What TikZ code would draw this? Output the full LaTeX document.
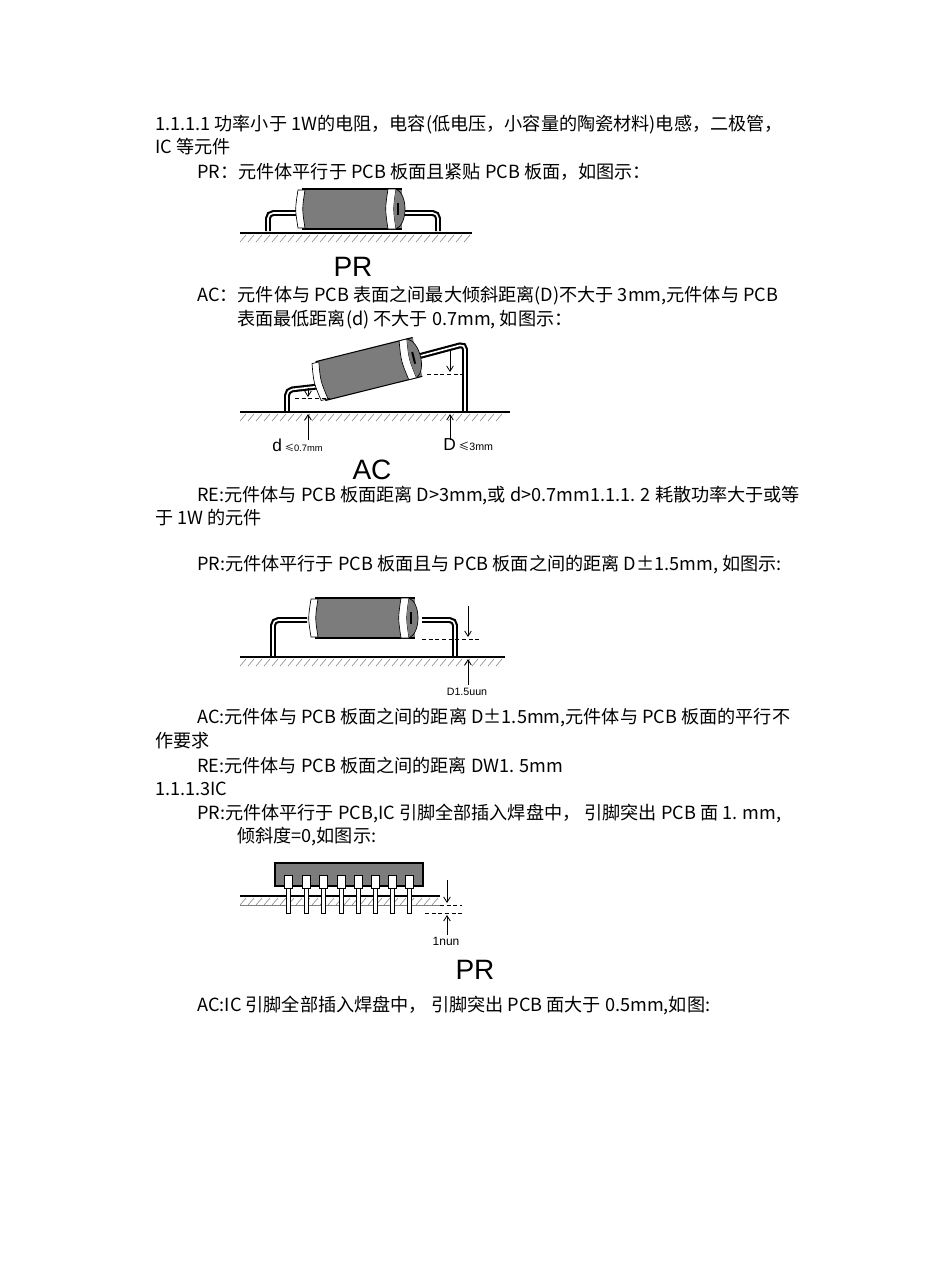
\documentclass[tikz,border=0pt]{standalone}
\usepackage{fontspec}
\setmainfont{Noto Sans CJK SC}
\newfontfamily\latf{Liberation Sans}
\usetikzlibrary{arrows.meta}
\definecolor{bodygray}{HTML}{7C7C7C}
\tikzset{
  txt/.style={anchor=west,inner sep=0pt,font=\fontsize{13.6}{15}\selectfont},
  big/.style={inner sep=0pt,font=\latf\fontsize{21}{23}\selectfont},
  small/.style={inner sep=0pt,font=\latf\fontsize{8}{9}\selectfont},
  lead/.style={line width=1.6pt,draw=black,double=white,double distance=1.2pt,rounded corners=4pt},
  dim/.style={densely dashed,line width=0.4pt},
  arr/.style={-{Straight Barb[length=4pt,width=5pt]},line width=0.6pt},
  hat/.style={line width=0.4pt,gray}
}
\newcommand\ground[3]{% x1,x2,y
  \draw[line width=1pt] (#1,#3) -- (#2,#3);
  \pgfmathsetmacro\nn{int((#2-#1)/8)-1}
  \foreach \i in {0,...,\nn}{\draw[hat] (#1+\i*8,#3+9) -- (#1+\i*8+6,#3+2);}
}
\newcommand\resbody{%
  \fill[bodygray] (-50,-20) rectangle (50,20);
  \draw[line width=0.8pt] (-50,-20) -- (50,-20) (-50,20) -- (50,20);
  \draw[fill=white,line width=0.5pt] (-54,-19) .. controls (-57,0) .. (-54,19) -- (-47,19) .. controls (-50,0) .. (-47,-19) -- cycle;
  \draw[fill=white,line width=0.5pt] (36,-20) .. controls (33,0) .. (36,20) -- (44,20) .. controls (41,0) .. (44,-20) -- cycle;
  \fill[bodygray] (44,-20) .. controls (56,-15) and (56,15) .. (44,20) .. controls (41,0) .. (44,-20);
  \draw[line width=0.5pt] (44,-20) .. controls (56,-15) and (56,15) .. (44,20);
  \draw[line width=1.5pt] (46,-6) -- (46,6);
}
\begin{document}
\begin{tikzpicture}[x=0.75pt,y=-0.75pt]
\useasboundingbox (0,0) rectangle (950,1288);
\fill[white] (0,0) rectangle (950,1288);
% texts
\node[txt] (t1) at (155,125) {1.1.1.1 功率小于 \textit{1W}的电阻，电容(低电压，小容量的陶瓷材料)电感，二极管，};
\node[txt] (t2) at (155,147) {IC 等元件};
\node[txt] (t3) at (197,172) {PR：元件体平行于 PCB 板面且紧贴 PCB 板面，如图示：};
\node[big] (pr1) at (353,267) {PR};
\node[txt] (t4) at (197,296) {AC：元件体与 PCB 表面之间最大倾斜距离(D)不大于 3mm,元件体与 PCB};
\node[txt] (t5) at (237,320) {表面最低距离(d) 不大于 0.7mm, 如图示：};
\node[big] (ac1) at (372,470) {AC};
\node[txt] (t6) at (197,496) {RE:元件体与 PCB 板面距离 D>3mm,或 d>0.7mm1.1.1. 2 耗散功率大于或等};
\node[txt] (t7) at (155,518) {于 1W 的元件};
\node[txt] (t8) at (197,565) {PR:元件体平行于 PCB 板面且与 PCB 板面之间的距离 D±1.5mm, 如图示:};
\node[txt] (t9) at (197,718) {AC:元件体与 PCB 板面之间的距离 D±1.5mm,元件体与 PCB 板面的平行不};
\node[txt] (t10) at (155,741) {作要求};
\node[txt] (t11) at (197,766) {RE:元件体与 PCB 板面之间的距离 DW1. 5mm};
\node[txt] (t12) at (155,789) {1.1.1.3IC};
\node[txt] (t13) at (197,813) {PR:元件体平行于 PCB,IC 引脚全部插入焊盘中， 引脚突出 PCB 面 1. mm,};
\node[txt] (t14) at (237,837) {倾斜度=0,如图示:};
\node[big] (pr2) at (475,970) {PR};
\node[txt] (t15) at (197,1005) {AC:IC 引脚全部插入焊盘中， 引脚突出 PCB 面大于 0.5mm,如图:};
% figure 1
\draw[lead] (300,213) -- (268,213) -- (268,231);
\draw[lead] (405,213) -- (438,213) -- (438,231);
\begin{scope}[shift={(352,209)}] \resbody \end{scope}
\ground{240}{472}{233}
% figure 2
\draw[lead] (322,386) -- (287,390) -- (287,411);
\draw[lead] (420,356) -- (465,344) -- (465,411);
\begin{scope}[shift={(369,369)},rotate=14] \resbody \end{scope}
\ground{240}{510}{412}
\draw[dim] (295,398) -- (330,398);
\draw[dim] (427,374) -- (465,374);
\draw[arr] (308,388) -- (308,397);
\draw[arr] (450,350) -- (450,372);
\draw[arr] (308,440) -- (308,414);
\draw[arr] (450,440) -- (450,414);
\node[small,anchor=west] (dl) at (272,445) {\fontsize{13}{14}\selectfont d\,{\fontspec{Noto Sans CJK SC}\fontsize{7}{8}\selectfont ≤}\fontsize{7}{8}\selectfont 0.7mm};
\node[small,anchor=west] (Dl) at (443,445) {\fontsize{13}{14}\selectfont D\,{\fontspec{Noto Sans CJK SC}\fontsize{8}{9}\selectfont ≤}\fontsize{8}{9}\selectfont 3mm};
% figure 3
\draw[lead] (307,620) -- (273,620) -- (273,656);
\draw[lead] (422,620) -- (455,620) -- (455,656);
\begin{scope}[shift={(365,618)}] \resbody \end{scope}
\ground{240}{505}{657}
\draw[dim] (422,639) -- (480,639);
\draw[arr] (468,606) -- (468,637);
\draw[arr] (468,685) -- (468,659);
\node[small] (d15) at (467,692) {D1.5uun};
% figure 4
\fill[bodygray] (275,863) rectangle (423,886);
\draw[line width=0.8pt] (275,863) rectangle (423,886);
\ground{240}{440}{896}
\draw[hat] (240,905) -- (440,905);
\foreach \px in {288,306,323,341,358,375,392,409}{
  \draw[fill=white,line width=0.6pt] (\px-4,875) rectangle (\px+4,888);
  \draw[fill=white,line width=0.6pt] (\px-2,888) rectangle (\px+2,913);
}
\draw[dim] (440,905) -- (462,905);
\draw[dim] (425,913) -- (462,913);
\draw[arr] (447,880) -- (447,903);
\draw[arr] (447,935) -- (447,915);
\node[small,font=\latf\fontsize{9}{10}\selectfont] (n1) at (446,941) {1nun};
\end{tikzpicture}
\end{document}
